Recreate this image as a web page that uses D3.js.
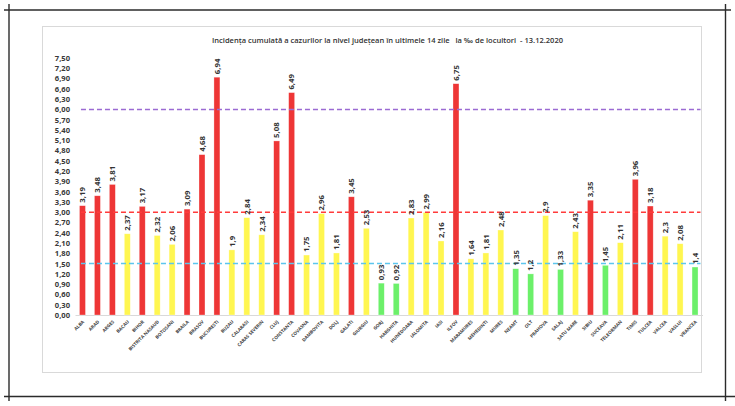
<!DOCTYPE html>
<html><head><meta charset="utf-8">
<script src="https://cdn.jsdelivr.net/npm/d3@7"></script>
<style>body{margin:0;background:#fff}svg{display:block}</style>
</head><body>
<svg id="c" width="735" height="406"></svg>
<script>
const counties = ["ALBA","ARAD","ARGES","BACAU","BIHOR","BISTRITA NASAUD","BOTOSANI","BRAILA","BRASOV","BUCURESTI","BUZAU","CALARASI","CARAS SEVERIN","CLUJ","CONSTANTA","COVASNA","DAMBOVITA","DOLJ","GALATI","GIURGIU","GORJ","HARGHITA","HUNEDOARA","IALOMITA","IASI","ILFOV","MARAMURES","MEHEDINTI","MURES","NEAMT","OLT","PRAHOVA","SALAJ","SATU MARE","SIBIU","SUCEAVA","TELEORMAN","TIMIS","TULCEA","VALCEA","VASLUI","VRANCEA"];
const incidence = [3.19,3.48,3.81,2.37,3.17,2.32,2.06,3.09,4.68,6.94,1.9,2.84,2.34,5.08,6.49,1.75,2.96,1.81,3.45,2.53,0.93,0.92,2.83,2.99,2.16,6.75,1.64,1.81,2.48,1.35,1.2,2.9,1.33,2.43,3.35,1.45,2.11,3.96,3.18,2.3,2.08,1.4];
const yTicks = [0,0.3,0.6,0.9,1.2,1.5,1.8,2.1,2.4,2.7,3.0,3.3,3.6,3.9,4.2,4.5,4.8,5.1,5.4,5.7,6.0,6.3,6.6,6.9,7.2,7.5];
const thresholds = [6.0, 3.0, 1.5];
const thresholdColors = ["#9B6BD3","#FF3B3B","#5CC6EE"];
const title = "Incidența cumulată a cazurilor la nivel județean în ultimele 14 zile   la ‰ de locuitori  - 13.12.2020";

const svg = d3.select("#c");
const fmt = v => String(v).replace(".", ",");
const colorOf = v => v > 3 ? "#EE3636" : (v >= 1.5 ? "#FFF650" : "#6CF06A");

// page frame (crop-mark style)
const frame = [[4,10,731,10],[9,4,9,401],[4,396.5,735,396.5],[725.5,4,725.5,401]];
svg.selectAll("line.frame").data(frame).enter().append("line")
  .attr("x1",d=>d[0]).attr("y1",d=>d[1]).attr("x2",d=>d[2]).attr("y2",d=>d[3])
  .attr("stroke","#2b2b2b").attr("stroke-width",1.4);

// chart box
svg.append("rect").attr("x",42.5).attr("y",26.5).attr("width",659).attr("height",346)
  .attr("fill","#fff").attr("stroke","#d9d9d9").attr("stroke-width",1);

svg.append("text").attr("x",387.5).attr("y",42.5).attr("text-anchor","middle")
  .attr("font-family","Open Sans, sans-serif").attr("font-size",7.6).attr("font-weight",600)
  .attr("fill","#333").attr("textLength",351).attr("lengthAdjust","spacingAndGlyphs")
  .style("white-space","pre").text(title);

const x = d3.scaleBand().domain(counties).range([75,702.5]).paddingInner(0.6).paddingOuter(0.3);
const y = d3.scaleLinear().domain([0,7.5]).range([315,58]);

// y axis
const ya = svg.append("g").attr("transform","translate(72,0)")
  .call(d3.axisLeft(y).tickValues(yTicks).tickSize(0).tickPadding(2).tickFormat(d=>d3.format(".2f")(d).replace(".",",")));
ya.select(".domain").remove();
ya.selectAll("text").attr("font-family","Open Sans, sans-serif").attr("font-size",7.6)
  .attr("font-weight",700).attr("fill","#3a3a3a");

// x axis
const xa = svg.append("g").attr("transform","translate(0,315)")
  .call(d3.axisBottom(x).tickSize(0).tickSizeOuter(0));
xa.select(".domain").attr("stroke","#d9d9d9").attr("stroke-width",1);
xa.selectAll("text").attr("font-family","Open Sans, sans-serif").attr("font-size",4.6)
  .attr("font-weight",700).attr("fill","#444").attr("text-anchor","end")
  .attr("y",0).attr("dy","0.35em").attr("transform","translate(1,6) rotate(-45)");

// bars
svg.selectAll("rect.bar").data(incidence).enter().append("rect")
  .attr("x",(d,i)=>x(counties[i])).attr("width",x.bandwidth())
  .attr("y",d=>y(d)).attr("height",d=>y(0)-y(d))
  .attr("fill",d=>colorOf(d)).attr("stroke","rgba(255,255,255,0.5)").attr("stroke-width",0.6);

// threshold dashed lines
const lx0 = x(counties[0]) + x.bandwidth()/2 - 1.5;
const lx1 = x.range()[1] - 2;
svg.selectAll("line.th").data(thresholds).enter().append("line")
  .attr("x1",lx0).attr("x2",lx1).attr("y1",d=>y(d)).attr("y2",d=>y(d))
  .attr("stroke",(d,i)=>thresholdColors[i]).attr("stroke-width",1.5).attr("stroke-dasharray","5,3");

// value labels
svg.selectAll("text.val").data(incidence).enter().append("text")
  .attr("transform",(d,i)=>`translate(${x(counties[i])+x.bandwidth()/2+2.8},${y(d)-3}) rotate(-90)`)
  .attr("text-anchor","start").attr("font-family","Open Sans, sans-serif")
  .attr("font-size",7.8).attr("font-weight",700).attr("fill","#333").text(d=>fmt(d));
</script>
</body></html>
